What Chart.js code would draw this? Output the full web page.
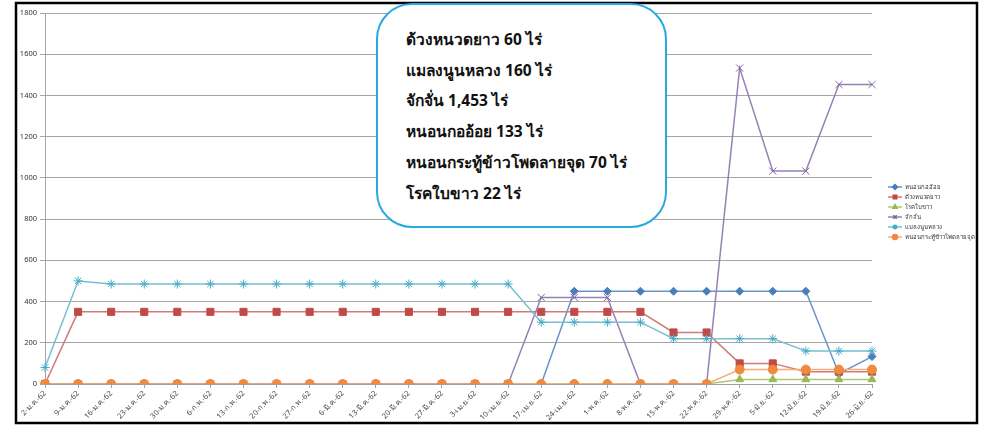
<!DOCTYPE html>
<html>
<head>
<meta charset="utf-8">
<script src="https://cdn.jsdelivr.net/npm/chart.js@4"></script>
<style>
  html, body { margin: 0; padding: 0; background: #fff; }
  #wrap { position: relative; width: 984px; height: 425px; }
  #note {
    position: absolute; left: 376px; top: 3px; width: 287px; height: 221px;
    border: 2px solid #2aa9e0; border-radius: 36px; background: #fff;
    font-family: "Noto Sans", sans-serif; font-weight: bold; font-size: 15.5px;
    color: #111; box-sizing: content-box;
  }
  #note div { position: absolute; left: 28px; white-space: nowrap; }
</style>
</head>
<body>
<div id="wrap">
  <canvas id="chart" width="984" height="425"></canvas>
  <div id="note"></div>
</div>
<script>
const weeks = ['2-ม.ค.-62','9-ม.ค.-62','16-ม.ค.-62','23-ม.ค.-62','30-ม.ค.-62',
  '6-ก.พ.-62','13-ก.พ.-62','20-ก.พ.-62','27-ก.พ.-62',
  '6-มี.ค.-62','13-มี.ค.-62','20-มี.ค.-62','27-มี.ค.-62',
  '3-เม.ย.-62','10-เม.ย.-62','17-เม.ย.-62','24-เม.ย.-62',
  '1-พ.ค.-62','8-พ.ค.-62','15-พ.ค.-62','22-พ.ค.-62','29-พ.ค.-62',
  '5-มิ.ย.-62','12-มิ.ย.-62','19-มิ.ย.-62','26-มิ.ย.-62'];

const sugarcaneBorer = [0,0,0,0,0,0,0,0,0,0,0,0,0,0,0,0,450,450,450,450,450,450,450,450,50,133];
const longhornBeetle = [0,350,350,350,350,350,350,350,350,350,350,350,350,350,350,350,350,350,350,250,250,100,100,60,60,60];
const whiteLeaf      = [0,0,0,0,0,0,0,0,0,0,0,0,0,0,0,0,0,0,0,0,0,22,22,22,22,22];
const leafhopper     = [0,0,0,0,0,0,0,0,0,0,0,0,0,0,0,420,420,420,0,0,0,1533,1033,1033,1453,1453];
const whiteGrub      = [80,500,485,485,485,485,485,485,485,485,485,485,485,485,485,300,300,300,300,220,220,220,220,160,160,160];
const armyworm       = [0,0,0,0,0,0,0,0,0,0,0,0,0,0,0,0,0,0,0,0,0,70,70,70,70,70];

const seriesNames = ['หนอนกออ้อย','ด้วงหนวดยาว','โรคใบขาว','จักจั่น','แมลงนูนหลวง','หนอนกระทู้ข้าวโพดลายจุด'];
const seriesColors = ['#4a7ebb','#be4b48','#98b954','#7d60a0','#46aac5','#f08a3c'];
const lineColors = ['#6a93c8','#d27a77','#acc97a','#9781b4','#76bfd3','#f6ad78'];
const noteLines = ['ด้วงหนวดยาว 60 ไร่','แมลงนูนหลวง 160 ไร่','จักจั่น 1,453 ไร่','หนอนกออ้อย 133 ไร่','หนอนกระทู้ข้าวโพดลายจุด 70 ไร่','โรคใบขาว 22 ไร่'];

const FONT = '"Noto Sans", sans-serif';

// text box
const note = document.getElementById('note');
noteLines.forEach((t, i) => {
  const d = document.createElement('div');
  d.textContent = t;
  d.style.top = (22 + i * 30.7) + 'px';
  note.appendChild(d);
});

const styles = ['rectRot','rect','triangle','crossRot','star','circle'];
const radii = [4, 5, 4.5, 5, 4.5, 4.5];
const allData = [sugarcaneBorer, longhornBeetle, whiteLeaf, leafhopper, whiteGrub, armyworm];

// frame + legend drawn on canvas
const framePlugin = {
  id: 'frame',
  beforeDraw(chart) {
    const c = chart.ctx;
    c.save();
    c.fillStyle = '#fff';
    c.fillRect(0, 0, chart.width, chart.height);
    c.restore();
  },
  afterDraw(chart) {
    const c = chart.ctx;
    c.save();
    c.strokeStyle = '#000';
    c.lineWidth = 2.5;
    c.strokeRect(16, 3, 961, 420);
    // legend
    c.font = '6px ' + FONT;
    c.textBaseline = 'middle';
    seriesNames.forEach((name, i) => {
      const y = 187 + i * 10;
      c.strokeStyle = lineColors[i];
      c.lineWidth = 1.5;
      c.beginPath(); c.moveTo(888, y); c.lineTo(902, y); c.stroke();
      c.fillStyle = seriesColors[i];
      c.strokeStyle = seriesColors[i];
      Chart.helpers.drawPoint(c, {pointStyle: styles[i], radius: 2.5, rotation: 0, borderWidth: 1}, 895, y);
      c.fillStyle = '#333';
      c.fillText(name, 905, y);
    });
    c.restore();
  }
};

const ctx = document.getElementById('chart').getContext('2d');
new Chart(ctx, {
  type: 'line',
  data: {
    labels: weeks,
    datasets: seriesNames.map((name, i) => ({
      label: name,
      data: allData[i],
      order: seriesNames.length - i,
      borderColor: lineColors[i],
      backgroundColor: seriesColors[i],
      pointBackgroundColor: seriesColors[i],
      pointBorderColor: seriesColors[i],
      pointStyle: styles[i],
      pointRadius: radii[i],
      pointBorderWidth: 1,
      borderWidth: 1.5,
      tension: 0,
      fill: false
    }))
  },
  options: {
    responsive: false,
    animation: false,
    layout: { padding: { top: 13, right: 112, left: 0, bottom: 0 } },
    plugins: {
      legend: { display: false },
      tooltip: { enabled: false }
    },
    scales: {
      x: {
        offset: false,
        grid: { drawOnChartArea: false, drawTicks: true, tickLength: 4, color: '#a0a0a0' },
        border: { color: '#a0a0a0' },
        ticks: {
          minRotation: 45, maxRotation: 45, autoSkip: false,
          color: '#444', font: { family: FONT, size: 7.5 }, padding: 1
        },
        afterFit: (scale) => { scale.height = 41; }
      },
      y: {
        min: 0, max: 1800,
        grid: { color: '#a6a6a6', tickLength: 5 },
        border: { color: '#a6a6a6' },
        ticks: {
          stepSize: 200, color: '#333', font: { family: FONT, size: 7.5 }, padding: 3,
          callback: (v) => String(v)
        },
        afterFit: (scale) => { scale.width = 45; }
      }
    }
  },
  plugins: [framePlugin]
});
</script>
</body>
</html>
